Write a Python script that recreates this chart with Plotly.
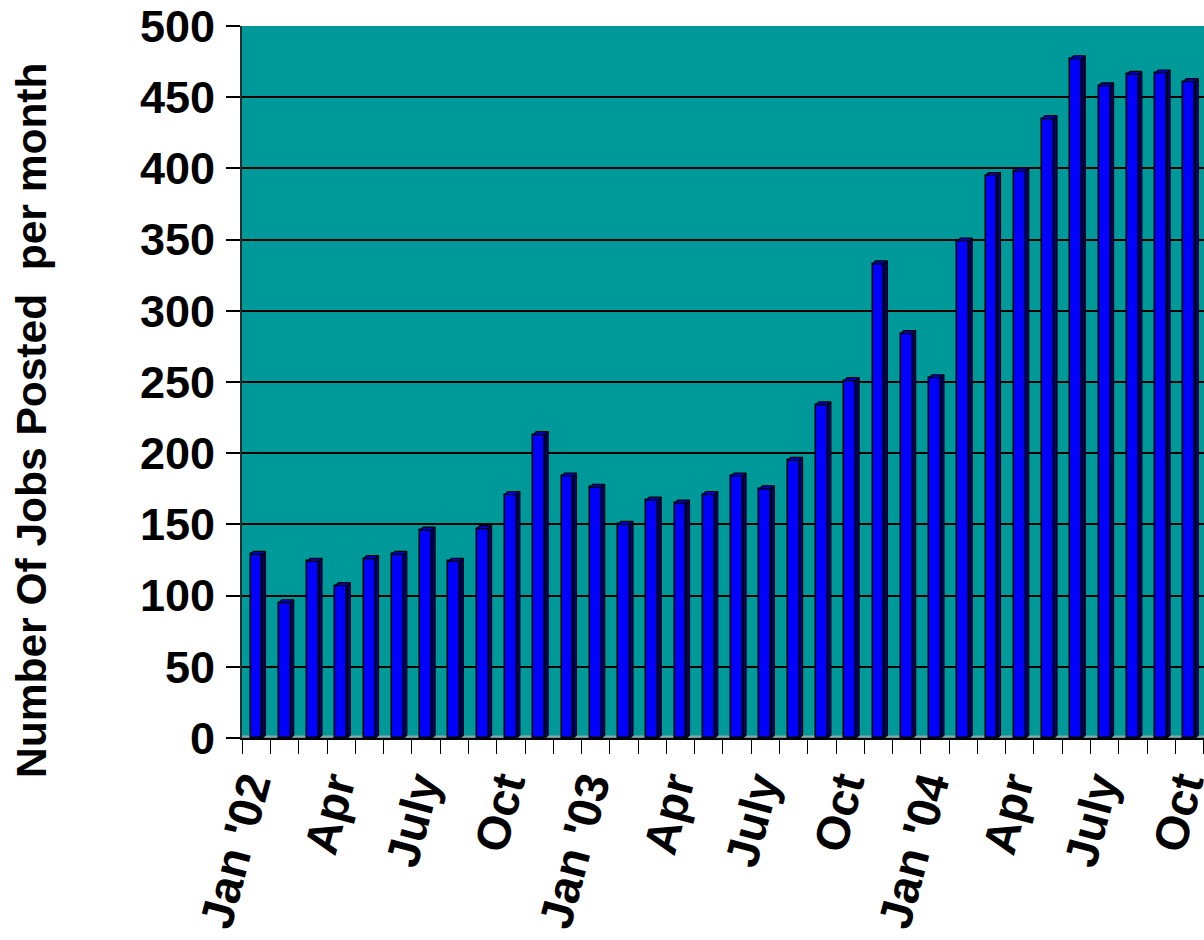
import plotly.graph_objects as go

# ---- data ----
months = list(range(34))  # Jan '02 .. Oct '04
jobs = [129, 95, 124, 107, 126, 129, 146, 124, 147, 171, 213, 184,
        176, 150, 167, 165, 171, 184, 175, 195, 234, 251, 333, 284,
        253, 349, 395, 398, 435, 477, 458, 466, 467, 461]
tick_pos = [0, 3, 6, 9, 12, 15, 18, 21, 24, 27, 30, 33]
tick_text = ["Jan '02", "Apr", "July", "Oct", "Jan '03", "Apr", "July", "Oct",
             "Jan '04", "Apr", "July", "Oct"]
y_title = "Number Of Jobs Posted  per month"

# ---- style ----
FONT = "Liberation Sans, Arial, sans-serif"
BAR_W = 0.42      # category units
DX = 0.106        # depth in x (category units)
DY = 2.1          # depth in y (value units)

fig = go.Figure()

# side faces and top faces (3-D look), built from the data
side_x, side_y, top_x, top_y = [], [], [], []
for x, v in zip(months, jobs):
    r = x + BAR_W / 2
    l = x - BAR_W / 2
    side_x += [r, r + DX, r + DX, r, r, None]
    side_y += [0, DY, v + DY, v, 0, None]
    top_x += [l, r, r + DX, l + DX, l, None]
    top_y += [v, v, v + DY, v + DY, v, None]

fig.add_trace(go.Bar(
    x=months, y=jobs, width=BAR_W,
    marker=dict(color="#0000FF", line=dict(color="black", width=1.5)),
    hoverinfo="skip", showlegend=False))

fig.add_trace(go.Scatter(
    x=side_x, y=side_y, mode="lines", fill="toself",
    fillcolor="#000080", line=dict(color="black", width=1.2),
    hoverinfo="skip", showlegend=False))
fig.add_trace(go.Scatter(
    x=top_x, y=top_y, mode="lines", fill="toself",
    fillcolor="#0000C8", line=dict(color="black", width=1.2),
    hoverinfo="skip", showlegend=False))

fig.update_layout(
    width=1204, height=940,
    margin=dict(l=242, r=0, t=26, b=202, pad=0, autoexpand=False),
    paper_bgcolor="white",
    plot_bgcolor="#009999",
    font=dict(family=FONT, color="black"),
    showlegend=False,
    bargap=0,
    annotations=[dict(
        text=y_title, textangle=-90,
        xref="paper", yref="paper",
        x=(31 - 242) / 962, y=(738 - 420) / 712,
        xanchor="center", yanchor="middle", showarrow=False,
        font=dict(family=FONT, size=42.5, weight="bold", color="black"))],
    shapes=[dict(type="line", xref="paper", yref="y", x0=0, x1=1, y0=1, y1=1,
                 line=dict(color="#A0A0A0", width=2), layer="below")],
)

fig.update_xaxes(
    automargin=False,
    range=[-0.513, 33.516],
    tickmode="array", tickvals=tick_pos, ticktext=tick_text,
    tickangle=-75, ticks="", ticklabelshift=-8,
    ticklabeloverflow="allow",
    tickfont=dict(family=FONT, size=47, weight="bold", color="black"),
    showgrid=False, zeroline=False,
    showline=True, linecolor="black", linewidth=2,
    minor=dict(tick0=-0.5, dtick=1, ticks="outside", ticklen=14,
               tickcolor="black", tickwidth=1, showgrid=False),
)
fig.update_yaxes(
    automargin=False,
    range=[0, 500], tickmode="linear", tick0=0, dtick=50,
    ticks="outside", ticklen=14, tickwidth=1.5, tickcolor="black",
    ticklabelstandoff=2,
    tickfont=dict(family=FONT, size=45, weight="bold", color="black"),
    showgrid=True, gridcolor="black", gridwidth=2,
    zeroline=False,
    showline=True, linecolor="#203030", linewidth=2,
)

fig.write_html(
    "out.html",
    config={"displayModeBar": False},
    post_script="document.body.style.margin='0';document.body.style.overflow='hidden';",
)
